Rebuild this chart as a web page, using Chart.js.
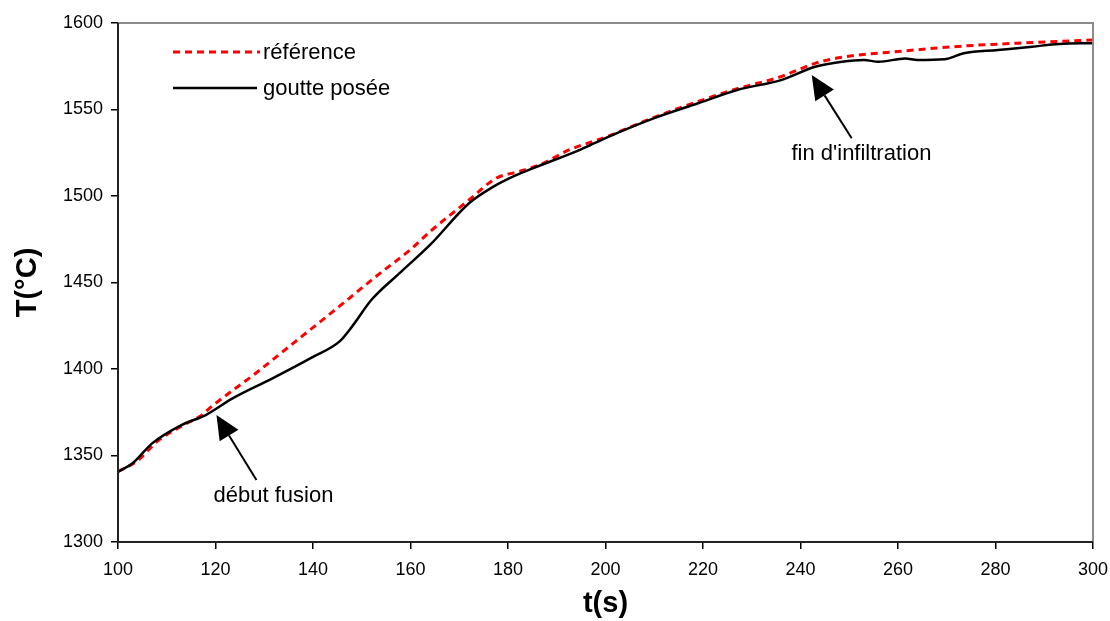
<!DOCTYPE html>
<html>
<head>
<meta charset="utf-8">
<script src="https://cdn.jsdelivr.net/npm/chart.js@4.4.0/dist/chart.umd.min.js"></script>
<style>
html,body{margin:0;padding:0;background:#fff;}
#wrap{width:1110px;height:621px;}
</style>
</head>
<body>
<div id="wrap"><canvas id="c" width="1110" height="621"></canvas></div>
<script>
// ---- data ----
const seriesNames = ["référence", "goutte posée"];
const refTime = [100, 104, 108, 113, 117, 119.5, 128, 136, 144, 153.6, 160, 164, 172, 177.5, 182, 186.5, 192.5, 200, 210, 219, 227, 236, 243, 248.5, 260, 273.5, 287.5, 300];
const refTemp = [1340.6, 1347, 1358, 1367, 1373, 1379, 1397, 1415, 1433, 1455, 1469, 1479.4, 1497.7, 1510.2, 1514, 1518, 1526.6, 1534, 1545.5, 1554.6, 1562, 1569, 1576.7, 1580.2, 1583.5, 1586.7, 1588.7, 1590.2];
const dropTime = [100, 103, 107, 113, 118, 123.5, 131.7, 140, 145.4, 148, 152, 158, 164, 172, 177, 181, 186, 195, 200, 210, 219, 227, 236, 243, 248.5, 253, 256, 261.5, 264, 269.5, 273.5, 280.5, 287.5, 293, 300];
const dropTemp = [1340.6, 1345.5, 1357, 1367.6, 1373.4, 1383, 1394.6, 1407, 1415.8, 1424.5, 1440, 1456, 1471.7, 1495.8, 1505.4, 1511.2, 1517, 1527, 1533.5, 1545, 1553.6, 1561.3, 1567, 1574.7, 1577.6, 1578.6, 1577.6, 1579.5, 1578.6, 1579, 1582.5, 1584.4, 1586.3, 1587.9, 1588.3];
const xTicks = [100, 120, 140, 160, 180, 200, 220, 240, 260, 280, 300];
const yTicks = [1300, 1350, 1400, 1450, 1500, 1550, 1600];
const annotationTexts = ["début fusion", "fin d'infiltration"];
const annotationTip = [[120.2, 1373.4], [242.3, 1569.9]];
const annotationTail = [[128.4, 1335.8], [250.5, 1533.4]];
const annotationLabel = [[131.9, 1326.6], [252.5, 1524.3]];

const FONT = "'Liberation Sans', Arial, sans-serif";

const toPts = (xs, ys) => xs.map((x, i) => ({x: x, y: ys[i]}));

const framePlugin = {
  id: 'frame',
  afterDatasetsDraw(chart) {
    const {ctx, chartArea: a} = chart;
    ctx.save();
    ctx.strokeStyle = '#8c8c8c';
    ctx.lineWidth = 2;
    ctx.beginPath();
    ctx.moveTo(a.left, a.top);
    ctx.lineTo(a.right, a.top);
    ctx.lineTo(a.right, a.bottom);
    ctx.stroke();
    ctx.strokeStyle = '#222';
    ctx.beginPath();
    ctx.moveTo(a.left, a.top);
    ctx.lineTo(a.left, a.bottom);
    ctx.lineTo(a.right, a.bottom);
    ctx.stroke();
    ctx.restore();
  }
};

const legendPlugin = {
  id: 'innerLegend',
  afterDraw(chart) {
    const {ctx, chartArea: a} = chart;
    ctx.save();
    ctx.font = "22px " + FONT;
    ctx.textBaseline = 'middle';
    ctx.fillStyle = '#000';
    const rows = [a.top + 29, a.top + 65];
    const ends = [142, 139];
    chart.data.datasets.forEach((ds, i) => {
      const y = rows[i];
      ctx.strokeStyle = ds.borderColor;
      ctx.lineWidth = ds.borderWidth;
      ctx.setLineDash(ds.borderDash || []);
      ctx.beginPath();
      ctx.moveTo(a.left + 55, y);
      ctx.lineTo(a.left + ends[i], y);
      ctx.stroke();
      ctx.setLineDash([]);
      ctx.fillText(ds.label, a.left + 145, y + 1);
    });
    ctx.restore();
  }
};

const arrowPlugin = {
  id: 'arrows',
  afterDraw(chart) {
    const {ctx, scales} = chart;
    const xs = scales.x, ys = scales.y;
    ctx.save();
    annotationTexts.forEach((txt, i) => {
      const tx = xs.getPixelForValue(annotationTip[i][0]);
      const ty = ys.getPixelForValue(annotationTip[i][1]);
      const sx = xs.getPixelForValue(annotationTail[i][0]);
      const sy = ys.getPixelForValue(annotationTail[i][1]);
      const ang = Math.atan2(ty - sy, tx - sx);
      const headLen = 24, headW = 11;
      const bx = tx - headLen * Math.cos(ang), by = ty - headLen * Math.sin(ang);
      ctx.strokeStyle = '#000';
      ctx.lineWidth = 2;
      ctx.beginPath();
      ctx.moveTo(sx, sy);
      ctx.lineTo(bx, by);
      ctx.stroke();
      ctx.fillStyle = '#000';
      ctx.beginPath();
      ctx.moveTo(tx, ty);
      ctx.lineTo(bx + headW * Math.sin(ang), by - headW * Math.cos(ang));
      ctx.lineTo(bx - headW * Math.sin(ang), by + headW * Math.cos(ang));
      ctx.closePath();
      ctx.fill();
      ctx.font = "22px " + FONT;
      ctx.textAlign = 'center';
      ctx.textBaseline = 'middle';
      ctx.fillText(txt, xs.getPixelForValue(annotationLabel[i][0]), ys.getPixelForValue(annotationLabel[i][1]));
    });
    ctx.restore();
  }
};

new Chart(document.getElementById('c'), {
  type: 'line',
  data: {
    datasets: [
      {
        label: seriesNames[0],
        data: toPts(refTime, refTemp),
        borderColor: '#ff0000',
        borderWidth: 3,
        borderDash: [7, 5],
        pointRadius: 0,
        cubicInterpolationMode: 'monotone',
        fill: false,
        order: 2
      },
      {
        label: seriesNames[1],
        data: toPts(dropTime, dropTemp),
        borderColor: '#000000',
        borderWidth: 2.5,
        pointRadius: 0,
        cubicInterpolationMode: 'monotone',
        fill: false,
        order: 1
      }
    ]
  },
  options: {
    responsive: false,
    animation: false,
    devicePixelRatio: 1,
    layout: {padding: {left: 0, right: 17, top: 23, bottom: 0}},
    plugins: {legend: {display: false}, tooltip: {enabled: false}},
    scales: {
      x: {
        type: 'linear',
        min: 100, max: 300,
        afterBuildTicks(s) { s.ticks = xTicks.map(v => ({value: v})); },
        afterFit(s) { s.height = 79; s.paddingLeft = 0; s.paddingRight = 0; },
        grid: {drawOnChartArea: false, tickLength: 7, color: '#000', lineWidth: 1.5},
        border: {display: false},
        ticks: {color: '#000', font: {family: FONT, size: 18}, padding: 10, maxRotation: 0,
          callback: v => String(v)},
        title: {display: true, text: 't(s)', color: '#000', font: {family: FONT, size: 29, weight: 'bold'}, padding: {top: 0, bottom: 0}}
      },
      y: {
        type: 'linear',
        min: 1300, max: 1600,
        afterBuildTicks(s) { s.ticks = yTicks.map(v => ({value: v})); },
        afterFit(s) { s.width = 118; s.paddingTop = 0; s.paddingBottom = 0; },
        grid: {drawOnChartArea: false, tickLength: 7, color: '#000', lineWidth: 1.5},
        border: {display: false},
        ticks: {color: '#000', font: {family: FONT, size: 18}, padding: 8,
          callback: v => String(v)},
        title: {display: true, text: 'T(°C)', color: '#000', font: {family: FONT, size: 29, weight: 'bold'}, padding: {top: 11, bottom: 0}}
      }
    }
  },
  plugins: [framePlugin, legendPlugin, arrowPlugin]
});
</script>
</body>
</html>
